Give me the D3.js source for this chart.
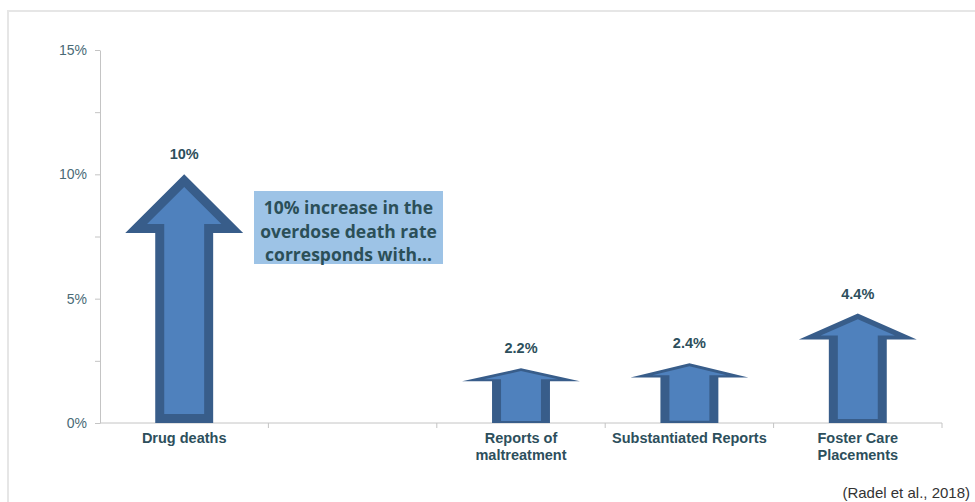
<!DOCTYPE html>
<html>
<head>
<meta charset="utf-8">
<script src="https://cdn.jsdelivr.net/npm/d3@7"></script>
<style>
  html, body { margin: 0; padding: 0; background: #fff; }
  svg { display: block; }
</style>
</head>
<body>
<svg id="chart" width="975" height="502"></svg>
<script>
// Categories along the x axis (the second slot is intentionally empty)
const categories = ["Drug deaths", "", "Reports of\nmaltreatment", "Substantiated Reports", "Foster Care\nPlacements"];
// Percentage increase shown by each arrow
const changePct = [10, null, 2.2, 2.4, 4.4];
const valueLabels = ["10%", "", "2.2%", "2.4%", "4.4%"];
// Y axis ticks (labels only on every 5%)
const yTicks = [0, 2.5, 5, 7.5, 10, 12.5, 15];
const yTickLabels = ["0%", "", "5%", "", "10%", "", "15%"];
// Callout and source text
const calloutLines = ["10% increase in the", "overdose death rate", "corresponds with\u2026"];
const sourceNote = "(Radel et al., 2018)";

const svg = d3.select("#chart");
const W = 975, H = 502;
const plot = { left: 100, right: 942, top: 50, bottom: 423 };

const textDark = "#2d4f5c";
const axisText = "#4a6a76";
const axisLine = "#c4c4c4";
const fillBlue = "#4f81bd";
const edgeBlue = "#385d8a";

// Frame lines (top and left)
svg.append("line").attr("x1", 7).attr("x2", W).attr("y1", 11).attr("y2", 11)
  .attr("stroke", "#e6e6e6").attr("stroke-width", 2);
svg.append("line").attr("x1", 8).attr("x2", 8).attr("y1", 11).attr("y2", H)
  .attr("stroke", "#e6e6e6").attr("stroke-width", 2);

const x = d3.scaleBand().domain(categories).range([plot.left, plot.right]).padding(0);
const y = d3.scaleLinear().domain([0, 15]).range([plot.bottom, plot.top]);

// Y axis
const yAxis = svg.append("g")
  .attr("transform", `translate(${plot.left},0)`)
  .call(d3.axisLeft(y).tickValues(yTicks)
    .tickFormat((d, i) => yTickLabels[i]).tickSize(5).tickSizeOuter(0).tickPadding(8));
yAxis.select(".domain").attr("stroke", axisLine);
yAxis.selectAll(".tick line").attr("stroke", axisLine);
yAxis.selectAll(".tick text")
  .attr("fill", axisText)
  .style("font-family", "'Liberation Sans', Arial, sans-serif")
  .style("font-size", "14px");

// X axis line and category boundary ticks
svg.append("line")
  .attr("x1", plot.left).attr("x2", plot.right)
  .attr("y1", y(0)).attr("y2", y(0))
  .attr("stroke", axisLine);
svg.append("g").selectAll("line")
  .data(categories)
  .join("line")
  .attr("x1", d => x(d) + x.bandwidth()).attr("x2", d => x(d) + x.bandwidth())
  .attr("y1", y(0)).attr("y2", y(0) + 5)
  .attr("stroke", axisLine);

// Category labels
const catG = svg.append("g")
  .style("font-family", "'Liberation Sans', Arial, sans-serif")
  .style("font-size", "14.5px")
  .style("font-weight", "bold")
  .attr("fill", textDark)
  .attr("text-anchor", "middle");
categories.forEach(c => {
  const t = catG.append("text")
    .attr("x", x(c) + x.bandwidth() / 2)
    .attr("y", y(0) + 20);
  c.split("\n").forEach((line, i) => {
    t.append("tspan")
      .attr("x", x(c) + x.bandwidth() / 2)
      .attr("dy", i === 0 ? 0 : 17)
      .text(line);
  });
});

// Arrow shape: a fixed-width block arrow whose height follows the value.
// The outline is drawn as an inset polygon in the unscaled frame, so that
// horizontal edges thin out as the arrow is squashed vertically.
const refH = y(0) - y(10);           // unscaled shape height
const headFrac = 0.236;
const headHalf = x.bandwidth() * 0.35;
const shaftHalf = x.bandwidth() * 0.172;
const edgeW = 9;

function arrowPoints() {
  const hb = -(refH - headFrac * refH);
  return [
    [-shaftHalf, 0], [-shaftHalf, hb], [-headHalf, hb], [0, -refH],
    [headHalf, hb], [shaftHalf, hb], [shaftHalf, 0]
  ];
}

function insetPolygon(pts, d) {
  const n = pts.length;
  const lines = [];
  for (let i = 0; i < n; i++) {
    const a = pts[i], b = pts[(i + 1) % n];
    const dx = b[0] - a[0], dy = b[1] - a[1];
    const len = Math.hypot(dx, dy);
    const nx = -dy / len, ny = dx / len;
    lines.push({ p: [a[0] + nx * d, a[1] + ny * d], v: [dx, dy] });
  }
  const out = [];
  for (let i = 0; i < n; i++) {
    const L1 = lines[(i - 1 + n) % n], L2 = lines[i];
    const den = L1.v[0] * L2.v[1] - L1.v[1] * L2.v[0];
    const t = ((L2.p[0] - L1.p[0]) * L2.v[1] - (L2.p[1] - L1.p[1]) * L2.v[0]) / den;
    out.push([L1.p[0] + L1.v[0] * t, L1.p[1] + L1.v[1] * t]);
  }
  return out;
}

const outer = arrowPoints();
const inner = insetPolygon(outer, edgeW);

const arrowData = categories.map((c, i) => ({ c, v: changePct[i], label: valueLabels[i] }))
  .filter(d => d.v != null);

function toPath(pts, d) {
  const cx = x(d.c) + x.bandwidth() / 2;
  const s = (y(0) - y(d.v)) / refH;
  return "M" + pts.map(p => [cx + p[0], y(0) + p[1] * s].join(",")).join("L") + "Z";
}

const arrows = svg.append("g").selectAll("g").data(arrowData).join("g");
arrows.append("path").attr("d", d => toPath(outer, d)).attr("fill", edgeBlue);
arrows.append("path").attr("d", d => toPath(inner, d)).attr("fill", fillBlue);

// Value labels
svg.append("g").selectAll("text").data(arrowData).join("text")
  .attr("x", d => x(d.c) + x.bandwidth() / 2)
  .attr("y", d => y(d.v) - 15)
  .attr("text-anchor", "middle")
  .attr("fill", textDark)
  .style("font-family", "'Liberation Sans', Arial, sans-serif")
  .style("font-size", "14.5px")
  .style("font-weight", "bold")
  .text(d => d.label);

// Callout box
const box = { x: 254, y: 191, w: 189, h: 73 };
svg.append("rect")
  .attr("x", box.x).attr("y", box.y).attr("width", box.w).attr("height", box.h)
  .attr("fill", "#9dc3e6");
svg.append("g").selectAll("text").data(calloutLines).join("text")
  .attr("x", box.x + box.w / 2)
  .attr("y", (d, i) => box.y + 23 + i * 23.5)
  .attr("text-anchor", "middle")
  .attr("fill", "#2b4f58")
  .style("font-family", "'Open Sans', sans-serif")
  .style("font-size", "17.5px")
  .style("font-weight", "bold")
  .text(d => d);

// Source note
svg.append("text")
  .attr("x", 970).attr("y", 498)
  .attr("text-anchor", "end")
  .attr("fill", "#333")
  .style("font-family", "'Liberation Sans', Arial, sans-serif")
  .style("font-size", "15px")
  .text(sourceNote);
</script>
</body>
</html>
